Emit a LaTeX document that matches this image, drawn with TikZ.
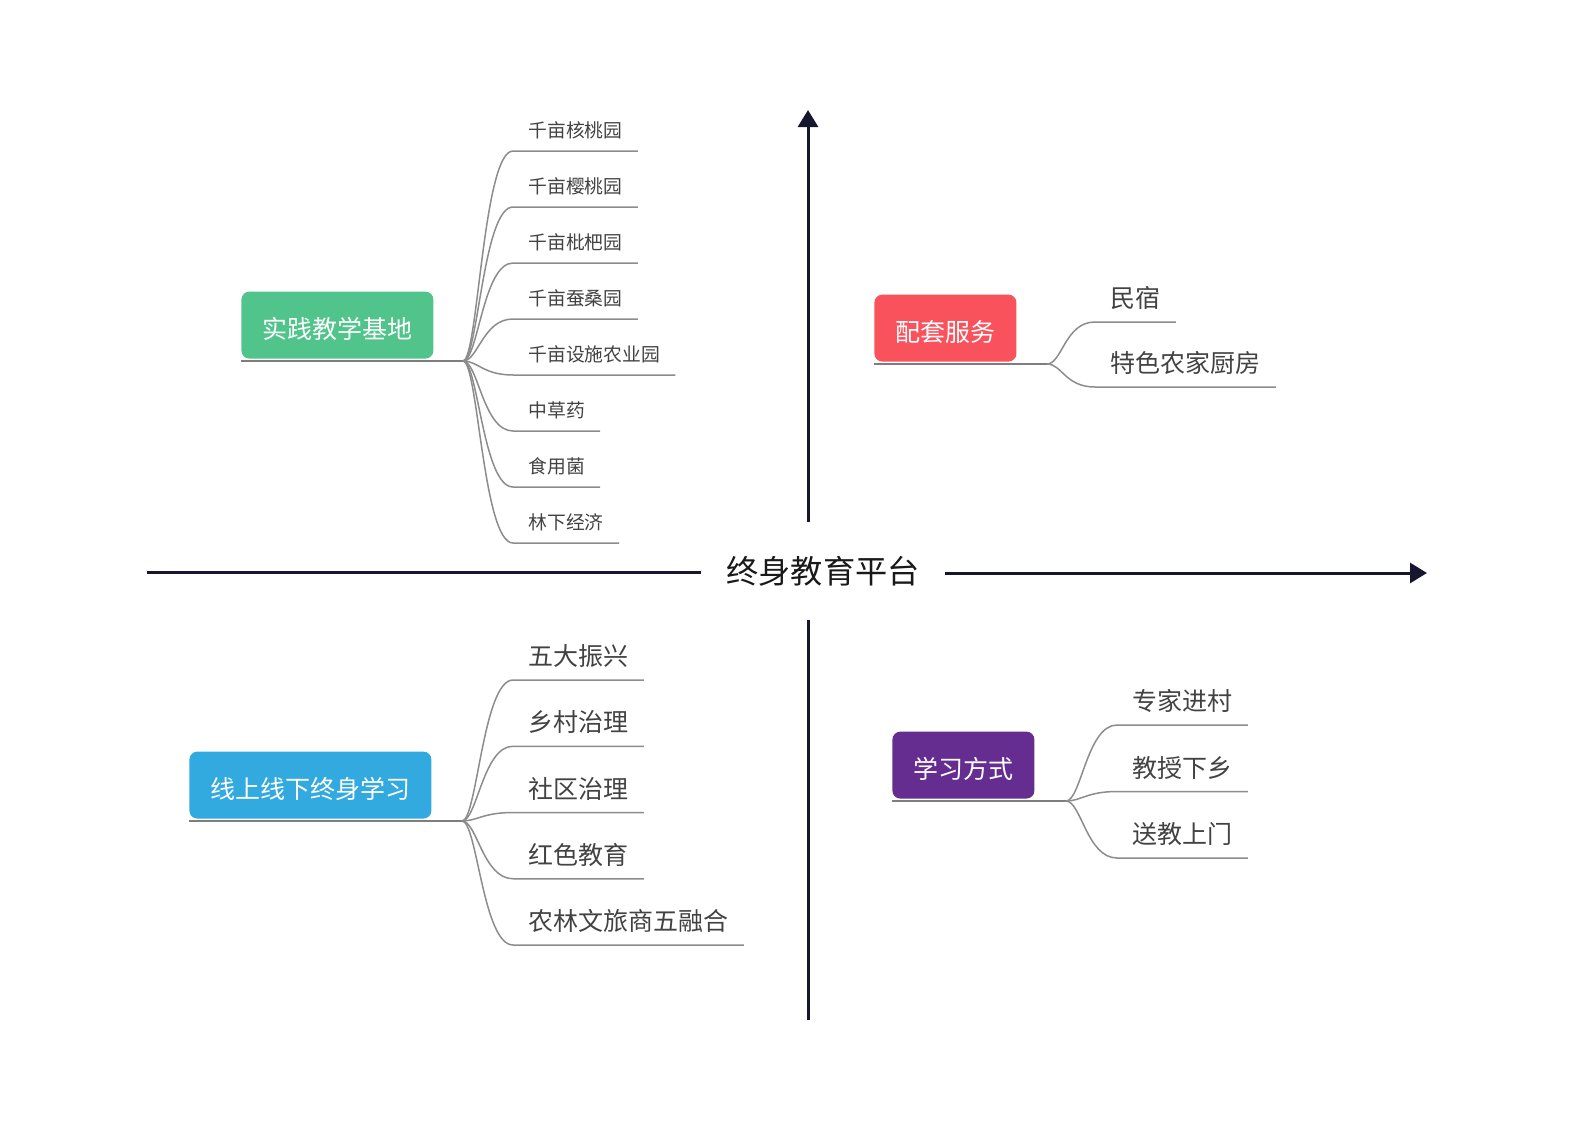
\documentclass[tikz,border=0pt]{standalone}
\usepackage{fontspec}
\setmainfont{Noto Sans CJK SC}
\usetikzlibrary{arrows.meta}

\definecolor{axisnavy}{RGB}{22,22,46}
\definecolor{branchgray}{RGB}{140,140,140}
\definecolor{leafgray}{RGB}{66,66,66}
\definecolor{topicgreen}{RGB}{81,196,139}
\definecolor{topicred}{RGB}{250,82,92}
\definecolor{topicblue}{RGB}{50,169,223}
\definecolor{topicpurple}{RGB}{102,45,145}

\begin{document}
\begin{tikzpicture}[%
					x=0.5pt, y=-0.5pt,
					axis/.style={draw=axisnavy, line width=1.5pt},
					tip/.style={-{Triangle[width=10pt,length=8.5pt]}},
					topic/.style={%
						anchor=south west,
						rounded corners=4pt,
						inner xsep=10.5pt,
						minimum height=33.5pt,
						text=white,
						font=\fontsize{12.5pt}{15pt}\selectfont,
						text height=15pt,
						text depth=1.5pt
					},
					leaf/.style={%
						anchor=south west,
						inner xsep=7.5pt,
						inner ysep=7pt,
						text depth=0pt,
						text=leafgray,
						font=\fontsize{12.5pt}{15pt}\selectfont
					},
					small leaf/.style={%
						leaf,
						inner ysep=6.5pt,
						font=\fontsize{9.4pt}{11pt}\selectfont
					},
					branch/.style={draw=branchgray, line width=0.75pt},
					trunk/.style={draw=branchgray!90!black, line width=1pt}
				]

				\useasboundingbox (0,0) rectangle (1575,1140);

				% centre and axes
				\node (platform) [%
					inner xsep=12.5pt,
					minimum height=48.5pt,
					text=black!90,
					font=\fontsize{16.1pt}{19pt}\selectfont,
					text height=14.2pt,
					text depth=1.9pt
				] at (823,571) {终身教育平台};

				\coordinate (west end) at (147,572);
				\coordinate (east end) at (1427,573);
				\coordinate (north end) at (808,110);
				\coordinate (south end) at (808,1020);

				\draw[axis] (west end) -- (west end -| platform.west);
				\draw[axis, tip] (platform.east |- east end) -- (east end);
				\draw[axis, tip] (north end |- platform.north) -- (north end);
				\draw[axis] (north end |- platform.south) -- (south end);

				% upper left
				\node (practice) [topic, fill=topicgreen] at (241,359) {实践教学基地};
				\coordinate (practice fork) at (463,361);
				\draw[trunk] (practice.south west |- practice fork) -- (practice fork);

				\foreach \name [count=\i from 0] in {千亩核桃园, 千亩樱桃园, 千亩枇杷园, 千亩蚕桑园, 千亩设施农业园, 中草药, 食用菌, 林下经济} {
					\node (practice-\i) [small leaf] at (513,151+56*\i) {\name};
					\draw[branch] (practice fork) .. controls +(15,0) and +(-30,0) .. (practice-\i.south west) -- (practice-\i.south east);
				}

				% upper right
				\node (service) [topic, fill=topicred] at (874,362) {配套服务};
				\coordinate (service fork) at (1047,364);
				\draw[trunk] (service.south west |- service fork) -- (service fork);

				\foreach \name [count=\i from 0] in {民宿, 特色农家厨房} {
					\node (service-\i) [leaf] at (1095,322+65*\i) {\name};
					\draw[branch] (service fork) .. controls +(15,0) and +(-30,0) .. (service-\i.south west) -- (service-\i.south east);
				}

				% lower left
				\node (online) [topic, fill=topicblue] at (189,819) {线上线下终身学习};
				\coordinate (online fork) at (462,821);
				\draw[trunk] (online.south west |- online fork) -- (online fork);

				\foreach \name [count=\i from 0] in {五大振兴, 乡村治理, 社区治理, 红色教育, 农林文旅商五融合} {
					\node (online-\i) [leaf] at (513,680+66.25*\i) {\name};
					\draw[branch] (online fork) .. controls +(15,0) and +(-30,0) .. (online-\i.south west) -- (online-\i.south east);
				}

				% lower right
				\node (method) [topic, fill=topicpurple] at (892,799) {学习方式};
				\coordinate (method fork) at (1066,801);
				\draw[trunk] (method.south west |- method fork) -- (method fork);

				\foreach \name [count=\i from 0] in {专家进村, 教授下乡, 送教上门} {
					\node (method-\i) [leaf] at (1117,725+66.5*\i) {\name};
					\draw[branch] (method fork) .. controls +(15,0) and +(-30,0) .. (method-\i.south west) -- (method-\i.south east);
				}
			\end{tikzpicture}
\end{document}
